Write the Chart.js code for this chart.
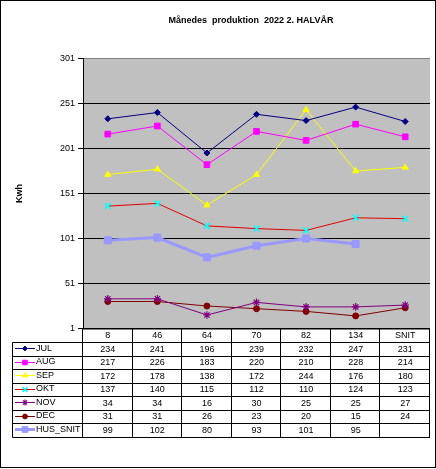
<!DOCTYPE html>
<html>
<head>
<meta charset="utf-8">
<script src="https://cdn.jsdelivr.net/npm/chart.js@4/dist/chart.umd.min.js"></script>
<style>
  html, body { margin: 0; padding: 0; background: #ffffff; }
  #wrap { width: 436px; height: 469px; }
</style>
</head>
<body>
<div id="wrap"><canvas id="c" width="436" height="469"></canvas></div>
<script>
const categories = ['8', '46', '64', '70', '82', '134', 'SNIT'];
const jul = [234, 241, 196, 239, 232, 247, 231];
const aug = [217, 226, 183, 220, 210, 228, 214];
const sep = [172, 178, 138, 172, 244, 176, 180];
const okt = [137, 140, 115, 112, 110, 124, 123];
const nov = [34, 34, 16, 30, 25, 25, 27];
const dec = [31, 31, 26, 23, 20, 15, 24];
const husSnit = [99, 102, 80, 93, 101, 95, null];
const yTicks = [1, 51, 101, 151, 201, 251, 301];

const FONT = '"Liberation Sans", Arial, sans-serif';

function ds(label, data, line, pointColor, style, radius, width, pbw) {
  return {
    label, data,
    borderColor: line, backgroundColor: pointColor,
    pointBackgroundColor: pointColor, pointBorderColor: pointColor,
    pointStyle: style, pointRadius: radius, pointHoverRadius: radius,
    pointBorderWidth: pbw, borderWidth: width, tension: 0, spanGaps: false
  };
}

const datasets = [
  ds('JUL', jul, '#000080', '#000080', 'rectRot', 3, 1, 1),
  ds('AUG', aug, '#FF00FF', '#FF00FF', 'rect', 4, 1, 1),
  ds('SEP', sep, '#FFFF00', '#FFFF00', 'triangle', 3.5, 1, 1),
  ds('OKT', okt, '#E00000', '#00FFFF', 'crossRot', 4.2, 1, 1.5),
  ds('NOV', nov, '#800080', '#800080', 'star', 3.8, 1, 1.2),
  ds('DEC', dec, '#800000', '#800000', 'circle', 3, 1, 1),
  ds('HUS_SNIT', husSnit, '#9999FF', '#9999FF', 'rect', 5, 3, 1)
];

const framePlugin = {
  id: 'frame',
  afterLayout(chart) {
    const t = chart.titleBlock;
    if (t) { t.left = 66; t.right = 436; t.width = 370; }
  },
  beforeDraw(chart) {
    const { ctx, chartArea: a } = chart;
    ctx.save();
    ctx.fillStyle = '#ffffff';
    ctx.fillRect(0, 0, chart.width, chart.height);
    ctx.fillStyle = '#C0C0C0';
    ctx.fillRect(a.left, a.top, a.right - a.left, a.bottom - a.top);
    ctx.restore();
  },
  afterDraw(chart) {
    const { ctx, chartArea: a } = chart;
    const xs = chart.scales.x;
    const n = categories.length;
    const colW = (a.right - a.left) / n;
    const rowH = 13.5;
    const top = a.bottom;
    const legLeft = 12.5;
    ctx.save();
    ctx.strokeStyle = '#000000';
    ctx.lineWidth = 1;
    ctx.beginPath();
    ctx.moveTo(a.left, top + 0.5); ctx.lineTo(a.right, top + 0.5);
    for (let r = 1; r <= datasets.length + 1; r++) {
      const y = Math.round(top + r * rowH) + 0.5;
      ctx.moveTo(legLeft, y); ctx.lineTo(a.right, y);
    }
    const bottom = Math.round(top + (datasets.length + 1) * rowH) + 0.5;
    for (let i = 0; i <= n; i++) {
      const x = Math.round(a.left + i * colW) - 0.5;
      ctx.moveTo(x, top); ctx.lineTo(x, bottom);
    }
    const firstRow = Math.round(top + rowH) + 0.5;
    ctx.moveTo(legLeft, firstRow); ctx.lineTo(legLeft, bottom);
    ctx.stroke();

    ctx.fillStyle = '#000000';
    ctx.font = '9px ' + FONT;
    ctx.textAlign = 'center';
    ctx.textBaseline = 'middle';
    categories.forEach((c, i) => {
      ctx.fillText(c, xs.getPixelForValue(i), top + rowH / 2 + 0.5);
    });
    datasets.forEach((d, r) => {
      const yc = top + (r + 1) * rowH + rowH / 2 + 0.5;
      ctx.textAlign = 'center';
      ctx.fillStyle = '#000000';
      d.data.forEach((v, i) => {
        if (v !== null) ctx.fillText(String(v), xs.getPixelForValue(i), yc);
      });
      const ky = Math.round(yc) - 0.5;
      ctx.strokeStyle = d.borderColor;
      ctx.lineWidth = d.borderWidth;
      ctx.beginPath();
      ctx.moveTo(15, ky); ctx.lineTo(35, ky);
      ctx.stroke();
      ctx.fillStyle = d.pointBackgroundColor;
      ctx.strokeStyle = d.pointBorderColor;
      ctx.lineWidth = d.pointBorderWidth;
      Chart.helpers.drawPoint(ctx, { pointStyle: d.pointStyle, radius: d.pointRadius * 0.8, rotation: 0, borderWidth: d.pointBorderWidth }, 25, ky);
      ctx.fillStyle = '#000000';
      ctx.textAlign = 'left';
      ctx.fillText(d.label, 36, yc - 1);
    });
    ctx.strokeStyle = '#000000';
    ctx.lineWidth = 1;
    ctx.strokeRect(0.5, 0.5, 435, 467);
    ctx.restore();
  }
};

new Chart(document.getElementById('c'), {
  type: 'line',
  data: { labels: categories, datasets },
  options: {
    responsive: false,
    animation: false,
    devicePixelRatio: 1,
    layout: { padding: { top: 0, left: 0, right: 1.5, bottom: 140.5 } },
    plugins: {
      legend: { display: false },
      tooltip: { enabled: false },
      title: {
        display: true,
        text: 'Månedes  produktion  2022 2. HALVÅR',
        color: '#000000',
        font: { family: FONT, size: 9, weight: 'bold' },
        padding: { top: 15.5, bottom: 32.2 },
        align: 'center'
      }
    },
    scales: {
      x: {
        type: 'category',
        offset: true,
        ticks: { display: false },
        grid: { display: false },
        border: { display: false },
        afterFit(s) { s.height = 0; }
      },
      y: {
        min: 1, max: 301,
        afterBuildTicks(s) { s.ticks = yTicks.map(v => ({ value: v })); },
        ticks: {
          color: '#000000',
          font: { family: FONT, size: 9 },
          padding: 3
        },
        grid: {
          color: (c) => (c.tick && c.tick.value === 301 ? '#808080' : '#000000'),
          tickColor: '#000000',
          tickLength: 5,
          lineWidth: 1
        },
        border: { display: true, color: '#000000', width: 1 },
        title: {
          display: true,
          text: 'Kwh',
          color: '#000000',
          font: { family: FONT, size: 9, weight: 'bold' },
          padding: { top: 14, bottom: 0 }
        },
        afterFit(s) { s.width = 83; }
      }
    }
  },
  plugins: [framePlugin]
});
</script>
</body>
</html>
